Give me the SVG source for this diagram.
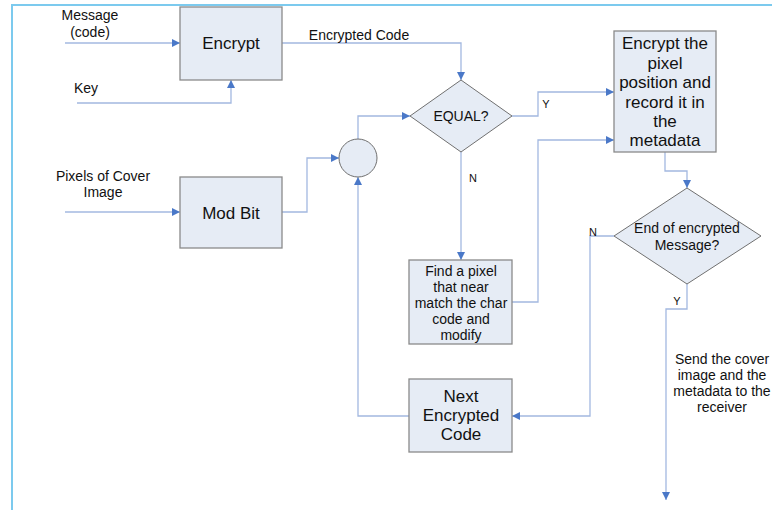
<svg xmlns="http://www.w3.org/2000/svg" width="772" height="510" viewBox="0 0 772 510">
<defs>
<marker id="ah" viewBox="0 0 10 10" refX="10" refY="5" markerWidth="8" markerHeight="8" markerUnits="userSpaceOnUse" orient="auto">
<path d="M0,0 L10,5 L0,10 z" fill="#4a78c8"/>
</marker>
<style>
.box{fill:#e6ecf5;stroke:#8a8a8a;stroke-width:1.3}
.dia{fill:#e6ecf5;stroke:#707070;stroke-width:1}
.ln{fill:none;stroke:#a3b8e0;stroke-width:1.3}
.ar{marker-end:url(#ah)}
text{font-family:"Liberation Sans",Arial,sans-serif;fill:#111;text-anchor:middle}
.t17{font-size:17px}
.t14{font-size:14px}
.t13{font-size:13px}
.t11{font-size:11px}
</style>
</defs>
<rect width="772" height="510" fill="#fff"/>
<path d="M12,510 V5 H772" fill="none" stroke="#7ccaee" stroke-width="2"/>

<g id="connectors">
<path class="ln ar" d="M65,43 H180"/>
<path class="ln ar" d="M77,103 H231 V80"/>
<path class="ln ar" d="M282,43 H461 V80"/>
<path class="ln ar" d="M65,212 H180"/>
<path class="ln ar" d="M282,212 H307 V158 H339"/>
<path class="ln ar" d="M358,139 V116 H410"/>
<path class="ln ar" d="M512,116 H538 V92 H614"/>
<path class="ln ar" d="M461,152 V260"/>
<path class="ln ar" d="M512,302 H538 V140 H614"/>
<path class="ln ar" d="M665,152 V171 H687 V188"/>
<path class="ln ar" d="M614,236 H590 V416 H512"/>
<path class="ln ar" d="M409,416 H358 V177"/>
<path class="ln ar" d="M687,284 V309 H666 V500"/>
</g>

<g id="labels">
<text class="t14" x="90" y="20">Message</text>
<text class="t14" x="90" y="37">(code)</text>
<text class="t14" x="86" y="93">Key</text>
<text class="t14" x="103" y="181">Pixels of Cover</text>
<text class="t14" x="103" y="197">Image</text>
<text class="t14" x="359" y="40">Encrypted Code</text>
<text class="t11" x="546" y="108">Y</text>
<text class="t11" x="473" y="182">N</text>
<text class="t11" x="593" y="236">N</text>
<text class="t11" x="677" y="305">Y</text>
<text class="t14" x="722" y="364">Send the cover</text>
<text class="t14" x="722" y="380">image and the</text>
<text class="t14" x="722" y="396">metadata to the</text>
<text class="t14" x="722" y="412">receiver</text>
</g>

<g id="encrypt">
<rect class="box" x="180" y="7" width="102" height="73"/>
<text class="t17" x="231" y="49">Encrypt</text>
</g>

<g id="modbit">
<rect class="box" x="180" y="177" width="102" height="71"/>
<text class="t17" x="231" y="219">Mod Bit</text>
</g>

<g id="join">
<circle class="dia" cx="358" cy="158" r="19"/>
</g>

<g id="equal">
<polygon class="dia" points="461,80 512,116 461,152 410,116"/>
<text class="t14" x="461" y="121">EQUAL?</text>
</g>

<g id="encpixel">
<rect class="box" x="614" y="31" width="102" height="121"/>
<text class="t17" x="665" y="49">Encrypt the</text>
<text class="t17" x="665" y="69">pixel</text>
<text class="t17" x="665" y="88">position and</text>
<text class="t17" x="665" y="108">record it in</text>
<text class="t17" x="665" y="127">the</text>
<text class="t17" x="665" y="146">metadata</text>
</g>

<g id="findpixel">
<rect class="box" x="409" y="260" width="103" height="84"/>
<text class="t14" x="461" y="276">Find a pixel</text>
<text class="t14" x="461" y="292">that near</text>
<text class="t14" x="461" y="308">match the char</text>
<text class="t14" x="461" y="324">code and</text>
<text class="t14" x="461" y="340">modify</text>
</g>

<g id="endmsg">
<polygon class="dia" points="687,188 761,236 687,284 614,236"/>
<text class="t14" x="687" y="233">End of encrypted</text>
<text class="t14" x="687" y="250">Message?</text>
</g>

<g id="nextcode">
<rect class="box" x="409" y="379" width="103" height="73"/>
<text class="t17" x="461" y="402">Next</text>
<text class="t17" x="461" y="421">Encrypted</text>
<text class="t17" x="461" y="440">Code</text>
</g>
</svg>
